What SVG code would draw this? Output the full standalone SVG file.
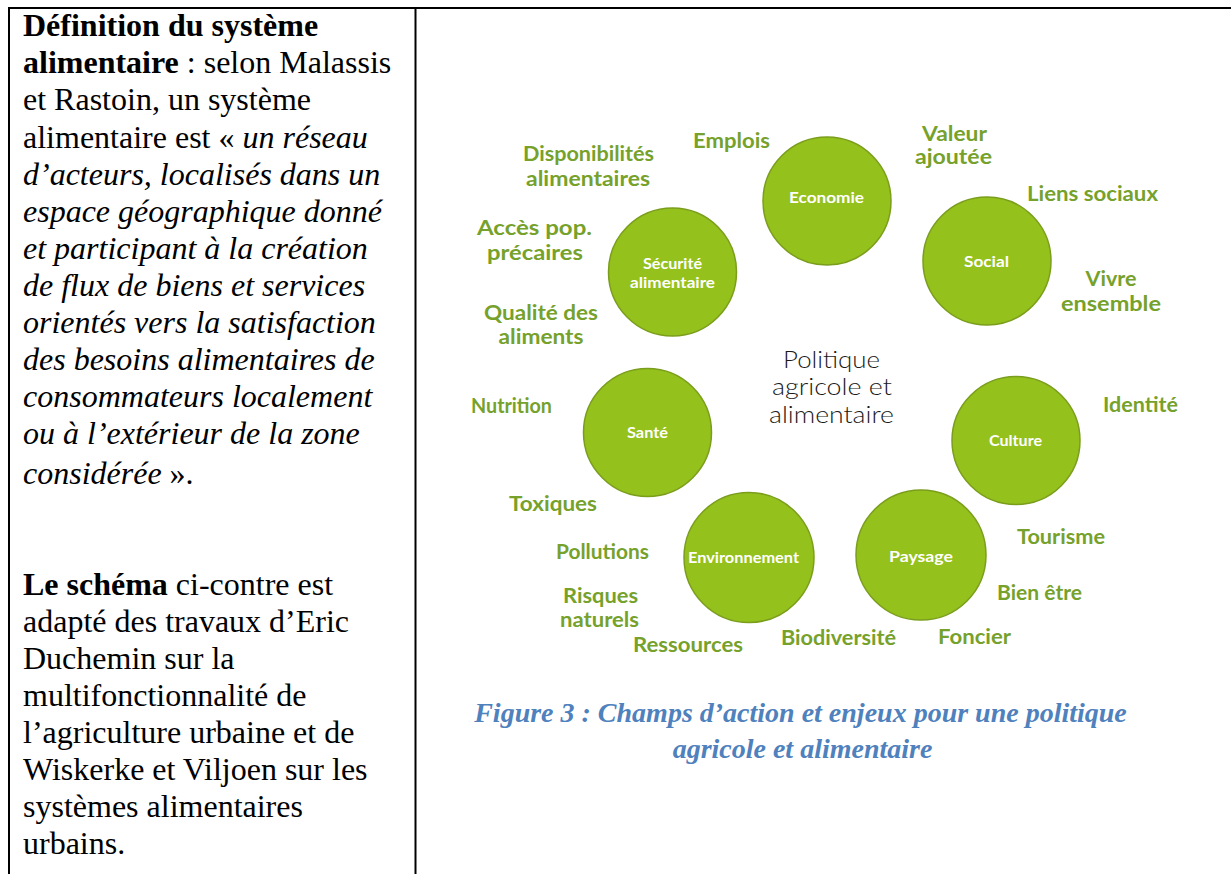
<svg xmlns="http://www.w3.org/2000/svg" width="1231" height="874" viewBox="0 0 1231 874">
<style>
.body{font-family:"Liberation Serif","Times New Roman",serif;font-size:32px;fill:#000}
.b{font-weight:bold}
.i{font-style:italic}
.circ{fill:#94c11c;stroke:#7a9e1c;stroke-width:1.5}
.cl{font-family:"Lato","Noto Sans",sans-serif;font-size:14.5px;font-weight:700;fill:#fff;text-anchor:middle}
.gl{font-family:"Lato","Noto Sans",sans-serif;font-size:20px;font-weight:700;fill:#76a12b;text-anchor:middle}
.ctr{font-family:"Lato","Noto Sans",sans-serif;font-size:24px;font-weight:300;fill:#1a1a1a;text-anchor:middle}
.cap{font-family:"Liberation Serif","Times New Roman",serif;font-size:28px;font-weight:bold;font-style:italic;fill:#4f81bd;text-anchor:middle}
.rule{stroke:#000;stroke-width:2;fill:none}
</style>
<rect width="1231" height="874" fill="#fff"/>
<g id="table">
<line class="rule" x1="8" y1="8" x2="1231" y2="8"/>
<line class="rule" x1="9" y1="7" x2="9" y2="874"/>
<line class="rule" x1="415.5" y1="7" x2="415.5" y2="874"/>
</g>
<g id="left-text" class="body">
<text x="23" y="36"><tspan class="b">Définition du système</tspan></text>
<text x="23" y="73"><tspan class="b">alimentaire</tspan> : selon Malassis</text>
<text x="23" y="110">et Rastoin, un système</text>
<text x="23" y="148">alimentaire est « <tspan class="i">un réseau</tspan></text>
<text x="23" y="185" class="i">d’acteurs, localisés dans un</text>
<text x="23" y="222" class="i">espace géographique donné</text>
<text x="23" y="259" class="i">et participant à la création</text>
<text x="23" y="296" class="i">de flux de biens et services</text>
<text x="23" y="333" class="i">orientés vers la satisfaction</text>
<text x="23" y="370" class="i">des besoins alimentaires de</text>
<text x="23" y="407" class="i">consommateurs localement</text>
<text x="23" y="444" class="i">ou à l’extérieur de la zone</text>
<text x="23" y="484"><tspan class="i">considérée</tspan> ».</text>
<text x="23" y="595"><tspan class="b">Le schéma</tspan> ci-contre est</text>
<text x="23" y="632">adapté des travaux d’Eric</text>
<text x="23" y="669">Duchemin sur la</text>
<text x="23" y="706">multifonctionnalité de</text>
<text x="23" y="743">l’agriculture urbaine et de</text>
<text x="23" y="780">Wiskerke et Viljoen sur les</text>
<text x="23" y="817">systèmes alimentaires</text>
<text x="23" y="854">urbains.</text>
</g>
<g id="center">
<text class="ctr" x="831.5" y="368" textLength="97" lengthAdjust="spacingAndGlyphs">Politique</text>
<text class="ctr" x="832" y="395" textLength="120" lengthAdjust="spacingAndGlyphs">agricole et</text>
<text class="ctr" x="831.5" y="423" textLength="125" lengthAdjust="spacingAndGlyphs">alimentaire</text>
</g>
<g id="economie">
<circle class="circ" cx="827" cy="201" r="64"/>
<text class="cl" x="826.5" y="203" textLength="75" lengthAdjust="spacingAndGlyphs">Economie</text>
</g>
<g id="social">
<circle class="circ" cx="987" cy="261" r="64"/>
<text class="cl" x="986.5" y="267" textLength="45" lengthAdjust="spacingAndGlyphs">Social</text>
</g>
<g id="securite">
<circle class="circ" cx="672.5" cy="272" r="64"/>
<text class="cl" x="672.5" y="269" textLength="59" lengthAdjust="spacingAndGlyphs">Sécurité</text>
<text class="cl" x="672.5" y="288" textLength="85" lengthAdjust="spacingAndGlyphs">alimentaire</text>
</g>
<g id="sante">
<circle class="circ" cx="647.5" cy="432.5" r="64"/>
<text class="cl" x="647.5" y="438" textLength="41" lengthAdjust="spacingAndGlyphs">Santé</text>
</g>
<g id="environnement">
<circle class="circ" cx="749" cy="557.5" r="65"/>
<text class="cl" x="743.5" y="563" textLength="111" lengthAdjust="spacingAndGlyphs">Environnement</text>
</g>
<g id="culture">
<circle class="circ" cx="1016" cy="440.5" r="64"/>
<text class="cl" x="1015.5" y="446" textLength="53" lengthAdjust="spacingAndGlyphs">Culture</text>
</g>
<g id="paysage">
<circle class="circ" cx="921" cy="555" r="65"/>
<text class="cl" x="921" y="562" textLength="64" lengthAdjust="spacingAndGlyphs">Paysage</text>
</g>
<g id="labels">
<text class="gl" x="731.5" y="148" textLength="77" lengthAdjust="spacingAndGlyphs">Emplois</text>
<text class="gl" x="588.5" y="161" textLength="131" lengthAdjust="spacingAndGlyphs">Disponibilités</text>
<text class="gl" x="588" y="186" textLength="124" lengthAdjust="spacingAndGlyphs">alimentaires</text>
<text class="gl" x="534.5" y="235" textLength="115" lengthAdjust="spacingAndGlyphs">Accès pop.</text>
<text class="gl" x="535" y="260" textLength="96" lengthAdjust="spacingAndGlyphs">précaires</text>
<text class="gl" x="541" y="320" textLength="114" lengthAdjust="spacingAndGlyphs">Qualité des</text>
<text class="gl" x="541" y="344" textLength="85" lengthAdjust="spacingAndGlyphs">aliments</text>
<text class="gl" x="954.5" y="141" textLength="65" lengthAdjust="spacingAndGlyphs">Valeur</text>
<text class="gl" x="953.5" y="164" textLength="77" lengthAdjust="spacingAndGlyphs">ajoutée</text>
<text class="gl" x="1092.5" y="201" textLength="131" lengthAdjust="spacingAndGlyphs">Liens sociaux</text>
<text class="gl" x="1111" y="286" textLength="51" lengthAdjust="spacingAndGlyphs">Vivre</text>
<text class="gl" x="1111" y="311" textLength="100" lengthAdjust="spacingAndGlyphs">ensemble</text>
<text class="gl" x="511.5" y="413" textLength="81" lengthAdjust="spacingAndGlyphs">Nutrition</text>
<text class="gl" x="553" y="511" textLength="88" lengthAdjust="spacingAndGlyphs">Toxiques</text>
<text class="gl" x="602.5" y="559" textLength="93" lengthAdjust="spacingAndGlyphs">Pollutions</text>
<text class="gl" x="600.5" y="603" textLength="75" lengthAdjust="spacingAndGlyphs">Risques</text>
<text class="gl" x="599.5" y="627" textLength="79" lengthAdjust="spacingAndGlyphs">naturels</text>
<text class="gl" x="688" y="652" textLength="110" lengthAdjust="spacingAndGlyphs">Ressources</text>
<text class="gl" x="838.5" y="645" textLength="115" lengthAdjust="spacingAndGlyphs">Biodiversité</text>
<text class="gl" x="974.5" y="644" textLength="73" lengthAdjust="spacingAndGlyphs">Foncier</text>
<text class="gl" x="1039.5" y="600" textLength="85" lengthAdjust="spacingAndGlyphs">Bien être</text>
<text class="gl" x="1061" y="544" textLength="88" lengthAdjust="spacingAndGlyphs">Tourisme</text>
<text class="gl" x="1140.5" y="412" textLength="75" lengthAdjust="spacingAndGlyphs">Identité</text>
</g>
<g id="connectors"></g>
<g id="caption" class="cap">
<text x="800.5" y="722">Figure 3 : Champs d’action et enjeux pour une politique</text>
<text x="802.5" y="758">agricole et alimentaire</text>
</g>
</svg>
